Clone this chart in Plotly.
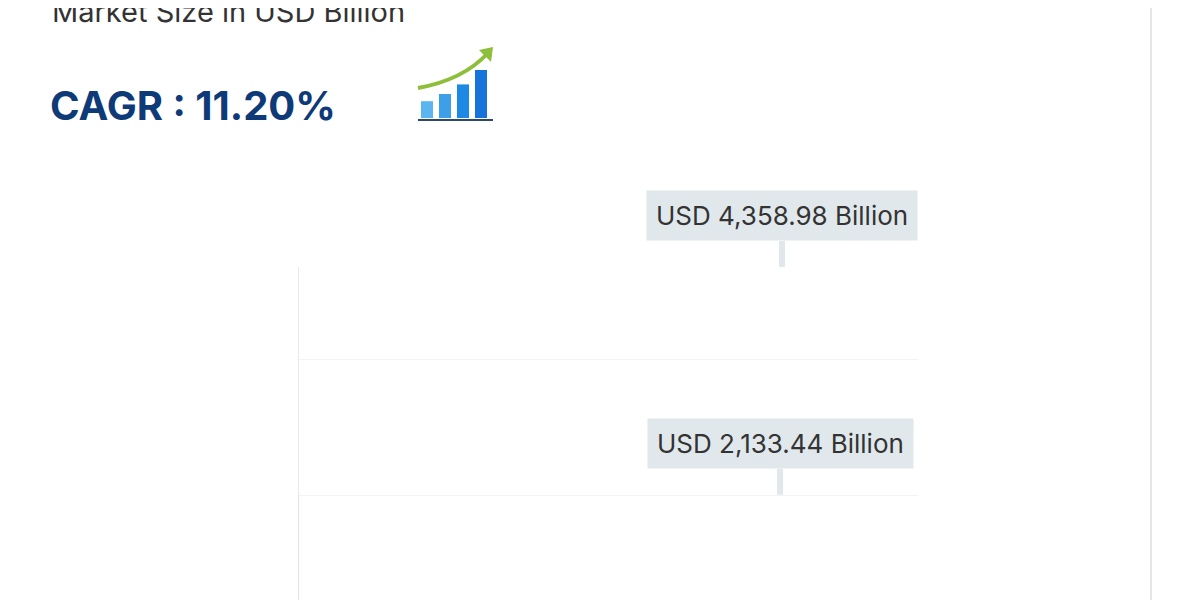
import plotly.graph_objects as go

categories = ["2024", "2032"]
values = [2133.44, 4358.98]
colors = ["#EC6523", "#06407D"]
labels = ["USD 2,133.44 Billion", "USD 4,358.98 Billion"]
icon_bars = [0.35, 0.5, 0.7, 1.0]

W, H = 1200, 600
L, R, T, B = 290, 290, 150, 0
ylo, yhi = 1026, 5423

def px(x):  # pixel x -> paper
    return (x - L) / (W - L - R)

def py(y):  # pixel y -> paper
    return (H - B - y) / (H - T - B)

fig = go.Figure(go.Bar(x=categories, y=values, marker_color=colors, width=0.6,
                       hoverinfo="skip"))

shapes = []
annotations = []
for c, v, lab in zip(categories, values, labels):
    annotations.append(dict(x=c, y=v, yref="y", xref="x", text=lab, showarrow=True,
                            arrowhead=0, arrowcolor="#E1E8EC", arrowwidth=6, ax=0, ay=-26,
                            standoff=0,
                            bgcolor="#E1E8EC", borderpad=9,
                            font=dict(family="Inter, Roboto, sans-serif", size=26, color="#333"),
                            yanchor="bottom"))

annotations.append(dict(x=px(42), y=py(4), xref="paper", yref="paper", xanchor="left",
                        yanchor="middle", showarrow=False, text="Market Size in USD Billion",
                        font=dict(family="Inter, sans-serif", size=29, color="#333")))
annotations.append(dict(x=px(40), y=py(97), xref="paper", yref="paper", xanchor="left",
                        yanchor="middle", showarrow=False, text="<b>CAGR : 11.20%</b>",
                        font=dict(family="Inter, sans-serif", size=40, color="#0E3A78")))

# icon
base = 110
for i, h in enumerate(icon_bars):
    x0 = 413 + i * 18
    shapes.append(dict(type="rect", xref="paper", yref="paper", x0=px(x0), x1=px(x0 + 12),
                       y0=py(base), y1=py(base - 48 * h), line_width=0,
                       fillcolor=["#5BB6F0", "#3C9FE8", "#1E88E5", "#1673D9"][i]))
shapes.append(dict(type="line", xref="paper", yref="paper", x0=px(410), x1=px(485),
                   y0=py(112), y1=py(112), line=dict(color="#2A4A6A", width=2)))
shapes.append(dict(type="path", xref="paper", yref="paper",
                   path=f"M {px(410)},{py(80)} Q {px(455)},{py(72)} {px(480)},{py(45)}",
                   line=dict(color="#8DBF3A", width=4)))
shapes.append(dict(type="path", xref="paper", yref="paper",
                   path=f"M {px(471)},{py(42)} L {px(485)},{py(39)} L {px(483)},{py(54)} Z",
                   fillcolor="#8DBF3A", line_width=0))
# card edge
shapes.append(dict(type="line", xref="paper", yref="paper", x0=px(1143), x1=px(1143),
                   y0=py(0), y1=py(600), line=dict(color="#E6E6E6", width=2)))

fig.update_layout(width=W, height=H, margin=dict(l=L, r=R, t=T, b=B),
                  paper_bgcolor="white", plot_bgcolor="white", showlegend=False,
                  shapes=shapes, annotations=annotations)
fig.update_xaxes(type="category", showticklabels=False, showgrid=False, zeroline=False)
fig.update_yaxes(range=[ylo, yhi], tickvals=[2130, 3450], showticklabels=False,
                 gridcolor="#F4F4F4", zeroline=False)
fig.write_html("out.html")
